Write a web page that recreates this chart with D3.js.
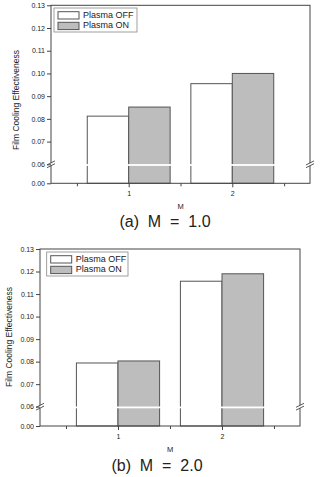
<!DOCTYPE html>
<html>
<head>
<meta charset="utf-8">
<script src="https://cdn.jsdelivr.net/npm/d3@7"></script>
<style>
  html, body { margin: 0; padding: 0; background: #fff; }
  svg { display: block; }
  text { font-family: "Liberation Sans", Arial, sans-serif; fill: #222; }
</style>
</head>
<body>
<svg id="fig" width="322" height="477"></svg>
<script>
// Film cooling effectiveness, plasma off vs. on, for two blowing ratios
const categories = [1, 2];
const seriesNames = ["Plasma OFF", "Plasma ON"];
const offM1 = [0.0812, 0.0955];
const onM1  = [0.0852, 0.1000];
const offM2 = [0.0794, 0.1157];
const onM2  = [0.0803, 0.1190];
const yTicks = [0.00, 0.06, 0.07, 0.08, 0.09, 0.10, 0.11, 0.12, 0.13];
const minorX = [0.5, 1.5, 2.5];
const captions = ["(a)  M  =  1.0", "(b)  M  =  2.0"];

const svg = d3.select("#fig");
const axisColor = "#444";
const barStroke = "#555";
const fills = ["#ffffff", "#bdbdbd"];

const panels = [
  { off: offM1, on: onM1, left: 51, right: 310, top: 5.3, brk: 164.3, bottom: 183.3,
    legend: { x: 54, y: 8, w: 83, h: 24 }, ylabX: 17, ylabY: 100, titleY: 206.7, capY: 223, capX: 165 },
  { off: offM2, on: onM2, left: 40, right: 300, top: 249, brk: 406.7, bottom: 426,
    legend: { x: 46.7, y: 252, w: 81.3, h: 24 }, ylabX: 10, ylabY: 337, titleY: 450, capY: 467, capX: 157 }
];

panels.forEach((p, i) => {
  const g = svg.append("g");
  const x = d3.scaleLinear().domain([0.25, 2.75]).range([p.left, p.right]);
  // broken axis: 0 .. 0.06 squeezed into a short segment below the break
  const y = d3.scaleLinear().domain([0, 0.06, 0.13]).range([p.bottom, p.brk, p.top]);
  const barW = 0.4;

  const rows = categories.map((c, k) => [
    { c, s: 0, v: p.off[k] },
    { c, s: 1, v: p.on[k] }
  ]).flat();

  g.selectAll("rect.bar").data(rows).enter().append("rect")
    .attr("class", "bar")
    .attr("x", d => x(d.s === 0 ? d.c - barW : d.c))
    .attr("width", d => x(d.c + barW) - x(d.c))
    .attr("y", d => y(d.v))
    .attr("height", d => y(0) - y(d.v))
    .attr("fill", d => fills[d.s])
    .attr("stroke", barStroke)
    .attr("stroke-width", 1);

  // white gap through the bars at the axis break
  g.append("rect")
    .attr("x", p.left + 1).attr("width", p.right - p.left - 2)
    .attr("y", y(0.06) - 0.2).attr("height", 1.8)
    .attr("fill", "#fff");

  // frame
  g.append("rect")
    .attr("x", p.left).attr("y", p.top)
    .attr("width", p.right - p.left).attr("height", p.bottom - p.top)
    .attr("fill", "none").attr("stroke", axisColor).attr("stroke-width", 1);

  // gaps in the side frame lines at the break
  [p.left, p.right].forEach(xx => {
    g.append("rect").attr("x", xx - 1.5).attr("width", 3)
      .attr("y", y(0.06) - 1.2).attr("height", 2.6).attr("fill", "#fff");
    [-1.4, 1.4].forEach(off => {
      g.append("line")
        .attr("x1", xx - 4).attr("y1", y(0.06) + off + 2)
        .attr("x2", xx + 4).attr("y2", y(0.06) + off - 2)
        .attr("stroke", axisColor).attr("stroke-width", 0.9);
    });
  });

  // y axis
  const ya = g.append("g").attr("transform", `translate(${p.left},0)`)
    .call(d3.axisLeft(y).tickValues(yTicks).tickFormat(d3.format(".2f")).tickSize(4).tickPadding(2));
  ya.select(".domain").remove();
  ya.selectAll("line").attr("stroke", axisColor);
  ya.selectAll("text").style("font-size", "7px").attr("fill", "#222");

  // x axis
  const xa = g.append("g").attr("transform", `translate(0,${p.bottom})`)
    .call(d3.axisBottom(x).tickValues(categories).tickFormat(d3.format("d")).tickSize(4).tickPadding(4));
  xa.select(".domain").remove();
  xa.selectAll("line").attr("stroke", axisColor);
  xa.selectAll("text").style("font-size", "7px").attr("fill", "#222");
  const xm = g.append("g").attr("transform", `translate(0,${p.bottom})`)
    .call(d3.axisBottom(x).tickValues(minorX).tickFormat("").tickSize(3));
  xm.select(".domain").remove();
  xm.selectAll("line").attr("stroke", axisColor);

  // axis titles
  g.append("text").attr("x", (p.left + p.right) / 2).attr("y", p.titleY)
    .attr("text-anchor", "middle").attr("dominant-baseline", "middle")
    .style("font-size", "7.5px").text("M");
  g.append("text")
    .attr("transform", `translate(${p.ylabX},${p.ylabY}) rotate(-90)`)
    .attr("text-anchor", "middle").attr("dominant-baseline", "middle")
    .style("font-size", "8.5px").text("Film Cooling Effectiveness");

  // legend
  const L = p.legend;
  g.append("rect").attr("x", L.x).attr("y", L.y).attr("width", L.w).attr("height", L.h)
    .attr("fill", "#fff").attr("stroke", "#888").attr("stroke-width", 0.8);
  seriesNames.forEach((name, k) => {
    const yy = L.y + 3.7 + k * 10.6;
    g.append("rect").attr("x", L.x + 4).attr("y", yy).attr("width", 21).attr("height", 7.3)
      .attr("fill", fills[k]).attr("stroke", barStroke).attr("stroke-width", 1);
    g.append("text").attr("x", L.x + 29).attr("y", yy + 3.8)
      .attr("dominant-baseline", "middle").style("font-size", "9px").text(name);
  });

  // caption
  g.append("text").attr("x", p.capX).attr("y", p.capY)
    .attr("text-anchor", "middle").attr("dominant-baseline", "middle")
    .style("font-size", "16px").style("white-space", "pre").attr("xml:space", "preserve")
    .text(captions[i]);
});
</script>
</body>
</html>
